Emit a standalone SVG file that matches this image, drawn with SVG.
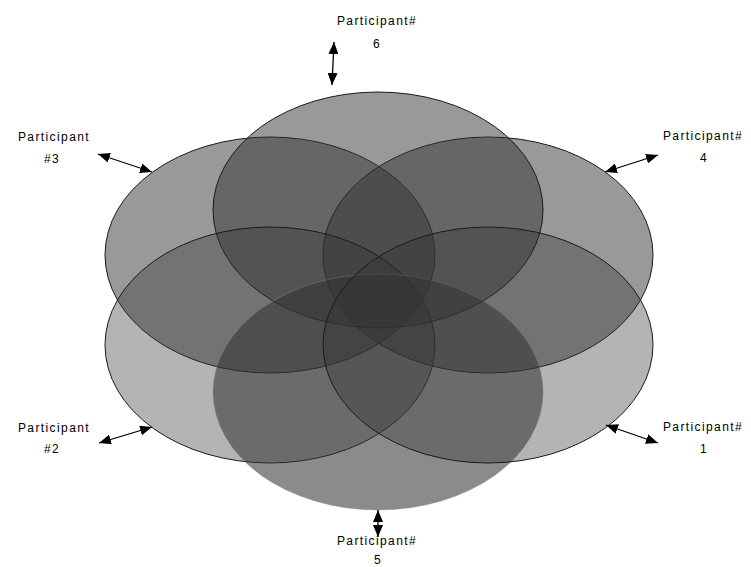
<svg xmlns="http://www.w3.org/2000/svg" width="751" height="567" viewBox="0 0 751 567">
<style>
.e{fill:#333333;stroke:#1a1a1a;stroke-width:1}
.a{stroke:#000;stroke-width:1.3;fill:none;marker-start:url(#h);marker-end:url(#h)}
text{font-family:"Liberation Sans",Arial,sans-serif;font-size:12px;letter-spacing:1.4px;fill:#000;text-anchor:middle}
</style>
<defs>
<marker id="h" viewBox="0 0 12 10" refX="12" refY="5" markerWidth="12" markerHeight="10" markerUnits="userSpaceOnUse" orient="auto-start-reverse">
<path d="M0,0 L12,5 L0,10 z" fill="#000"/>
</marker>
</defs>
<rect width="751" height="567" fill="#fff"/>
<g id="ellipses">
<g id="p3"><ellipse class="e" cx="270" cy="255" rx="165" ry="118" fill-opacity="0.5"/></g>
<g id="p4"><ellipse class="e" cx="488" cy="255" rx="165" ry="118" fill-opacity="0.5"/></g>
<g id="p6"><ellipse class="e" cx="378" cy="210" rx="165" ry="118" fill-opacity="0.5"/></g>
<g id="p2"><ellipse class="e" cx="270" cy="345" rx="165" ry="118" fill-opacity="0.37"/></g>
<g id="p5"><ellipse cx="378" cy="392" rx="165" ry="118" fill="#363232" fill-opacity="0.57" stroke="#888" stroke-opacity="0.4" stroke-width="1"/></g>
<g id="p1"><ellipse class="e" cx="488" cy="345" rx="165" ry="118" fill-opacity="0.37"/></g>
</g>
<g id="connectors">
<line class="a" x1="334" y1="42" x2="332" y2="85"/>
<line class="a" x1="98" y1="154" x2="152" y2="172"/>
<line class="a" x1="605" y1="172" x2="658" y2="155"/>
<line class="a" x1="99" y1="443" x2="152" y2="427"/>
<line class="a" x1="606" y1="425" x2="658" y2="443"/>
<line class="a" x1="378" y1="510" x2="378" y2="537"/>
</g>
<g id="labels">
<g id="l6"><text x="377" y="25">Participant#</text><text x="377" y="48">6</text></g>
<g id="l3"><text x="54" y="141">Participant</text><text x="52" y="163">#3</text></g>
<g id="l4"><text x="703" y="140">Participant#</text><text x="704" y="162">4</text></g>
<g id="l2"><text x="54" y="432">Participant</text><text x="52" y="453">#2</text></g>
<g id="l1"><text x="703" y="431">Participant#</text><text x="704" y="453">1</text></g>
<g id="l5"><text x="377" y="545">Participant#</text><text x="378" y="564">5</text></g>
</g>
</svg>
